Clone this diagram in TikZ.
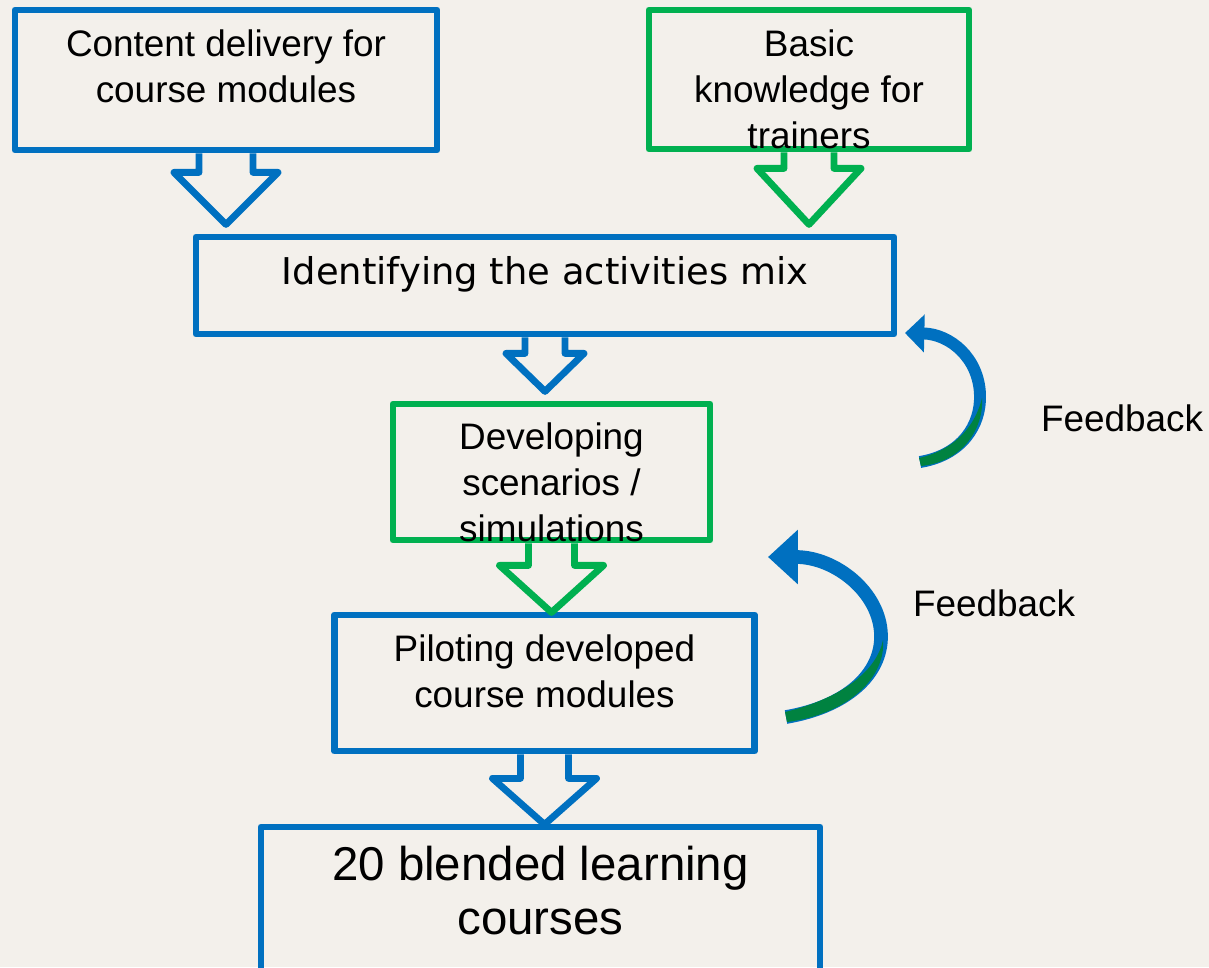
\documentclass[tikz,border=0pt]{standalone}
\usepackage{fontspec}
\setmainfont{Liberation Sans}
\newfontfamily\verdana{DejaVu Sans}
\usetikzlibrary{positioning,calc,arrows.meta}
\definecolor{boxblue}{RGB}{0,112,192}
\definecolor{boxgreen}{RGB}{0,176,80}
\definecolor{shadegreen}{RGB}{0,130,64}
\definecolor{paper}{RGB}{243,240,235}

% outline block arrow: colour, start, shaft half width, shaft length, head half width, head length
\newcommand{\flowarrow}[6]{%
  \draw[#1, line width=3.9pt, line join=round]
    ($(#2)+(-#3,0)$) -- ++(0,#4) -- ++(#3-#5,0) -- ++(#5,#6) -- ++(#5,-#6) -- ++(#3-#5,0) -- ++(0,-#4);
}

\begin{document}
\begin{tikzpicture}[
    x=0.02cm, y=-0.02cm,
    box/.style={rectangle, draw=boxblue, line width=3.9pt, line join=round},
    greenbox/.style={box, draw=boxgreen},
    boxtext/.style={align=center, inner sep=0pt, font=\fontsize{21}{26}\selectfont},
    feedback/.style={draw=boxblue, line width=6.8pt},
    underside/.style={fill=shadegreen}
]
    \clip (0,0) rectangle (1209,967);
    \fill[paper] (0,0) rectangle (1209,967);

    % boxes
    \node[box, minimum width=8.44cm, minimum height=2.8cm] (content) at (226,80) {};
    \node[greenbox, minimum width=6.4cm, minimum height=2.78cm] (knowledge) at (809,79.5) {};
    \node[box, minimum width=13.96cm, minimum height=1.94cm] (activities) at (545,285.5) {};
    \node[greenbox, minimum width=6.34cm, minimum height=2.72cm] (scenarios) at (551.5,472) {};
    \node[box, minimum width=8.4cm, minimum height=2.72cm] (piloting) at (544.5,683) {};
    \node[box, minimum width=11.18cm, minimum height=3.6cm] (courses) at (540.5,917) {};

    % block arrows
    \flowarrow{boxblue}{content.south}{27}{19}{52}{52}
    \flowarrow{boxgreen}{knowledge.south}{25}{16}{52}{56}
    \flowarrow{boxblue}{activities.south}{20}{16}{39}{38}
    \flowarrow{boxgreen}{scenarios.south}{23}{22}{52}{47}
    \flowarrow{boxblue}{piloting.south}{24}{24}{52}{46}

    % feedback loops
    \coordinate (fb1-tail) at (920,462);
    \coordinate (fb1-tip) at (905,333);
    \draw[feedback, -{Triangle[length=11pt, width=21pt]}]
        (fb1-tail) .. controls (962,455) and (981,425) .. (980,395)
        .. controls (979,358) and (950,334) .. (fb1-tip);
    \fill[underside] ($(fb1-tail)+(-1,-4)$) .. controls (958,449) and (976,423) .. (982,398)
        .. controls (984,428) and (963,462) .. ($(fb1-tail)+(1,4)$) -- cycle;

    \coordinate (fb2-tail) at (786,717);
    \coordinate (fb2-tip) at (768,557);
    \draw[feedback, line width=7.8pt, -{Triangle[length=17pt, width=30pt]}]
        (fb2-tail) .. controls (845,707) and (882,675) .. (881,635)
        .. controls (880,592) and (835,557) .. (fb2-tip);
    \fill[underside] ($(fb2-tail)+(-1,-5)$) .. controls (843,698) and (877,670) .. (883,640)
        .. controls (886,676) and (850,714) .. ($(fb2-tail)+(1,5)$) -- cycle;

    % texts
    \node[boxtext, below=0.46cm of content.north] (content-txt) {Content delivery for\\course modules};
    \node[boxtext, below=0.46cm of knowledge.north] (knowledge-txt) {Basic\\knowledge for\\trainers};
    \node[boxtext, below=0.46cm of activities.north, font=\verdana\fontsize{21}{26}\selectfont] (activities-txt) {Identifying the activities mix};
    \node[boxtext, below=0.44cm of scenarios.north] (scenarios-txt) {Developing\\scenarios /\\simulations};
    \node[boxtext, below=0.46cm of piloting.north] (piloting-txt) {Piloting developed\\course modules};
    \node[boxtext, below=0.44cm of courses.north, font=\fontsize{27}{31}\selectfont] (courses-txt) {20 blended learning\\courses};
    \node[boxtext] (fb1-txt) at (1122,418) {Feedback};
    \node[boxtext] (fb2-txt) at (994,603) {Feedback};
\end{tikzpicture}
\end{document}
